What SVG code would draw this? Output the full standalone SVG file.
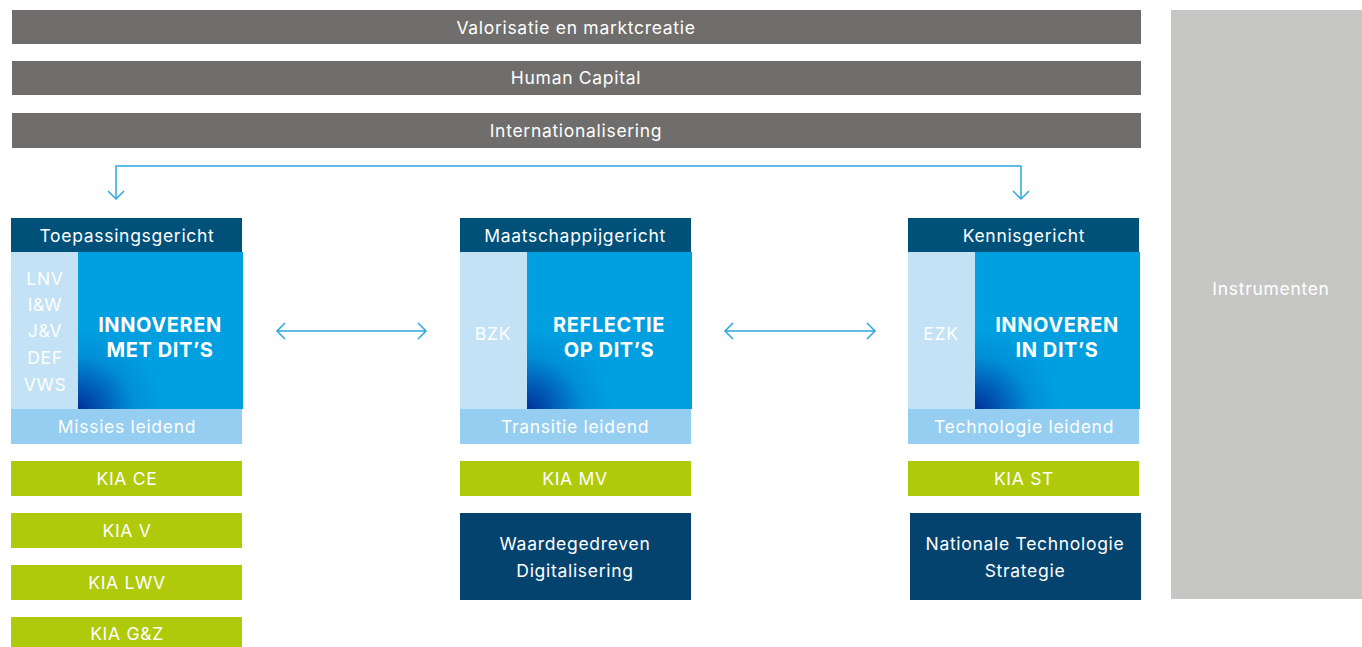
<svg xmlns="http://www.w3.org/2000/svg" width="1362" height="647" viewBox="0 0 1362 647">
<style>
text{font-family:Inter,"Noto Sans","Liberation Sans",sans-serif;fill:#fff;text-anchor:middle;dominant-baseline:central}
.t{font-size:17.5px;letter-spacing:0.7px}
.big{font-size:20px;font-weight:700;letter-spacing:0.6px}
.bar{fill:#6F6E6C}
.hdr{fill:#00517A}
.lc{fill:#C3E2F6}
.bt{fill:#95CEF1}
.gr{fill:#AFCA0B}
.nv{fill:#05436F}
.ln{fill:none;stroke:#2BA8E0;stroke-width:1.5}
</style>
<defs>
<radialGradient id="g" cx="0" cy="1" r="0.85" gradientUnits="objectBoundingBox">
<stop offset="0" stop-color="#00309A"/>
<stop offset="0.4" stop-color="#0090D8"/>
<stop offset="0.6" stop-color="#009FDF"/>
<stop offset="1" stop-color="#009FDF"/>
</radialGradient>
</defs>
<rect width="1362" height="647" fill="#fff"/>
<g id="valorisatie"><rect class="bar" x="12" y="10" width="1129" height="34"/><text class="t" x="576" y="27">Valorisatie en marktcreatie</text></g>
<g id="human"><rect class="bar" x="12" y="61" width="1129" height="34"/><text class="t" x="576" y="77">Human Capital</text></g>
<g id="internationalisering"><rect class="bar" x="12" y="113" width="1129" height="35"/><text class="t" x="576" y="130">Internationalisering</text></g>
<g id="instrumenten"><rect fill="#C6C6C5" x="1171" y="10" width="191" height="589"/><text class="t" x="1271" y="288">Instrumenten</text></g>

<g id="connectors">
<path class="ln" d="M116 199V166H1021V199"/>
<path class="ln" d="M108 191L116 199L124 191M1013 191L1021 199L1029 191"/>
<path class="ln" d="M277 331H426M285 323L277 331L285 339M418 323L426 331L418 339"/>
<path class="ln" d="M725 331H875M733 323L725 331L733 339M867 323L875 331L867 339"/>
</g>

<g id="toepassing">
<rect class="hdr" x="11" y="218" width="231" height="34"/><text class="t" x="127" y="235">Toepassingsgericht</text>
<rect class="lc" x="11" y="252" width="67" height="157"/>
<text class="t" x="45" y="278">LNV</text><text class="t" x="45" y="304">I&amp;W</text><text class="t" x="45" y="330">J&amp;V</text><text class="t" x="45" y="357">DEF</text><text class="t" x="45" y="384">VWS</text>
<rect fill="url(#g)" x="78" y="252" width="165" height="157"/>
<text class="big" x="160" y="325">INNOVEREN</text><text class="big" x="160" y="350">MET DIT’S</text>
<rect class="bt" x="11" y="409" width="231" height="35"/><text class="t" x="127" y="426">Missies leidend</text>
</g>
<g id="kia-ce"><rect class="gr" x="11" y="461" width="231" height="35"/><text class="t" x="127" y="478">KIA CE</text></g>
<g id="kia-v"><rect class="gr" x="11" y="513" width="231" height="35"/><text class="t" x="127" y="530">KIA V</text></g>
<g id="kia-lwv"><rect class="gr" x="11" y="565" width="231" height="35"/><text class="t" x="127" y="582">KIA LWV</text></g>
<g id="kia-gz"><rect class="gr" x="11" y="617" width="231" height="30"/><text class="t" x="127" y="633">KIA G&amp;Z</text></g>

<g id="maatschappij">
<rect class="hdr" x="460" y="218" width="231" height="34"/><text class="t" x="575" y="235">Maatschappijgericht</text>
<rect class="lc" x="460" y="252" width="67" height="157"/>
<text class="t" x="493" y="333">BZK</text>
<rect fill="url(#g)" x="527" y="252" width="165" height="157"/>
<text class="big" x="609" y="325">REFLECTIE</text><text class="big" x="609" y="350">OP DIT’S</text>
<rect class="bt" x="460" y="409" width="231" height="35"/><text class="t" x="575" y="426">Transitie leidend</text>
</g>
<g id="kia-mv"><rect class="gr" x="460" y="461" width="231" height="35"/><text class="t" x="575" y="478">KIA MV</text></g>
<g id="waarde"><rect class="nv" x="460" y="513" width="231" height="87"/><text class="t" x="575" y="543">Waardegedreven</text><text class="t" x="575" y="570">Digitalisering</text></g>

<g id="kennis">
<rect class="hdr" x="908" y="218" width="231" height="34"/><text class="t" x="1024" y="235">Kennisgericht</text>
<rect class="lc" x="908" y="252" width="67" height="157"/>
<text class="t" x="941" y="333">EZK</text>
<rect fill="url(#g)" x="975" y="252" width="165" height="157"/>
<text class="big" x="1057" y="325">INNOVEREN</text><text class="big" x="1057" y="350">IN DIT’S</text>
<rect class="bt" x="908" y="409" width="231" height="35"/><text class="t" x="1024" y="426">Technologie leidend</text>
</g>
<g id="kia-st"><rect class="gr" x="908" y="461" width="231" height="35"/><text class="t" x="1024" y="478">KIA ST</text></g>
<g id="nts"><rect class="nv" x="910" y="513" width="231" height="87"/><text class="t" x="1025" y="543">Nationale Technologie</text><text class="t" x="1025" y="570">Strategie</text></g>
</svg>
